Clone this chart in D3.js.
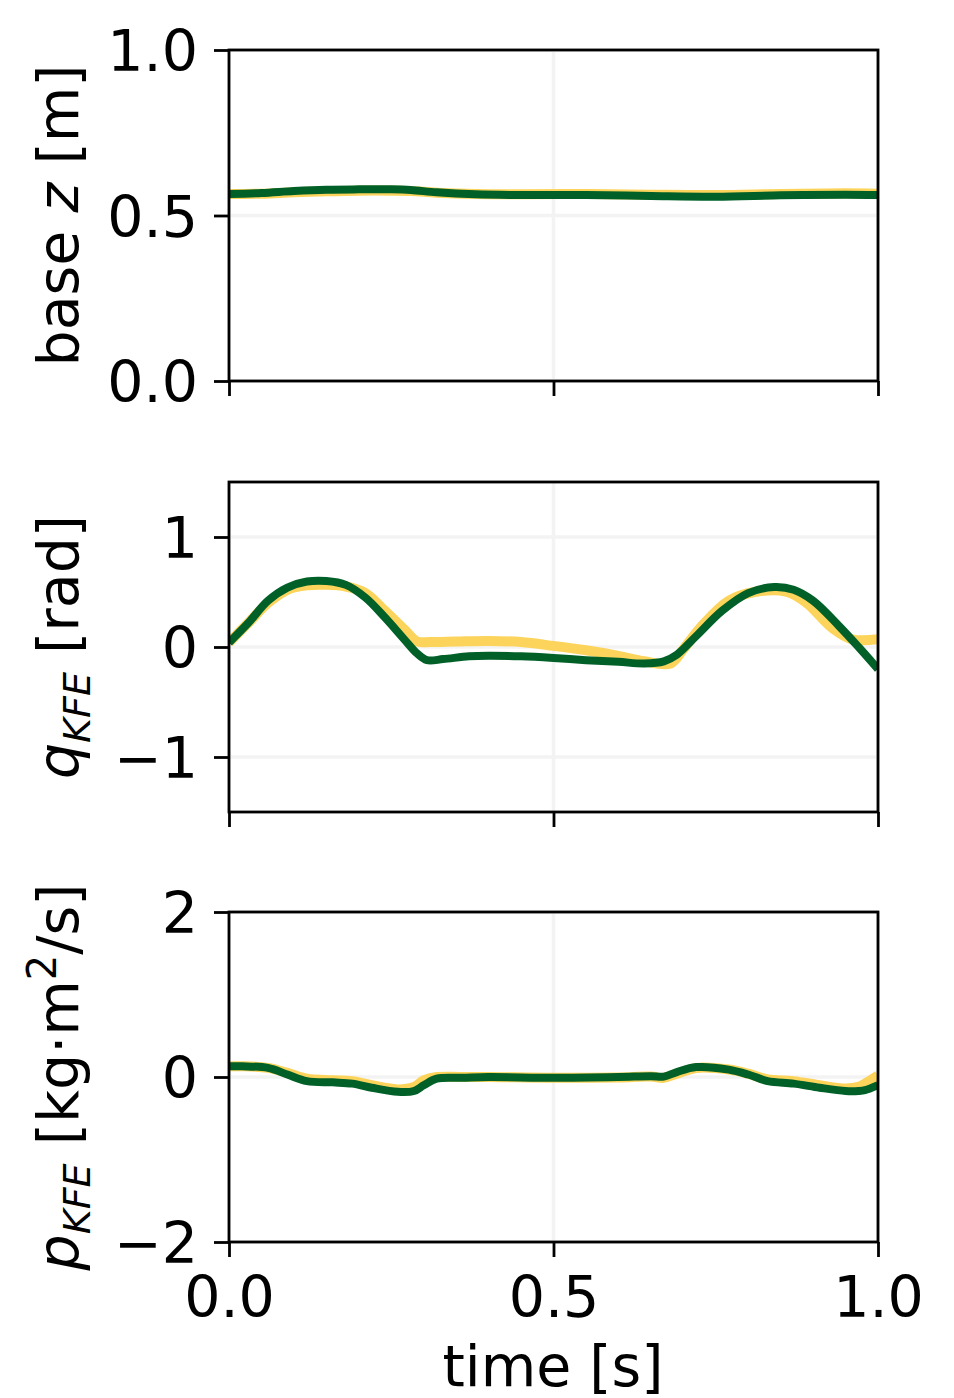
<!DOCTYPE html>
<html lang='en'>
<head>
    <meta charset='utf-8'>
    <title>KFE trajectories</title>
    <script src="https://d3js.org/d3.v7.min.js"></script>
    <style>
        body { margin: 0; background: white; }
        text { font-family: "DejaVu Sans", sans-serif; fill: black; }
    </style>
</head>
<body>
    <div id='chart'></div>
    <script>
        // time samples and series
        const baseT     = [0, 0.05, 0.1, 0.15, 0.2, 0.25, 0.28, 0.32, 0.38, 0.45, 0.55, 0.65, 0.75, 0.85, 0.95, 1.0];
        const baseRef   = [0.565, 0.566, 0.570, 0.573, 0.575, 0.575, 0.574, 0.569, 0.565, 0.564, 0.565, 0.563, 0.562, 0.565, 0.567, 0.566];
        const baseSim   = [0.565, 0.568, 0.574, 0.578, 0.579, 0.579, 0.577, 0.570, 0.564, 0.562, 0.562, 0.559, 0.557, 0.561, 0.563, 0.562];

        const qRefT = [0, 0.03, 0.06, 0.09, 0.12, 0.15, 0.18, 0.21, 0.24, 0.27, 0.29, 0.31, 0.35, 0.40, 0.45, 0.50, 0.55, 0.60, 0.64, 0.68, 0.70, 0.73, 0.77, 0.81, 0.86, 0.89, 0.93, 0.96, 1.0];
        const qRef  = [0.04, 0.22, 0.40, 0.52, 0.56, 0.565, 0.55, 0.49, 0.33, 0.16, 0.05, 0.045, 0.05, 0.055, 0.045, 0.01, -0.03, -0.08, -0.13, -0.15, -0.02, 0.20, 0.42, 0.50, 0.50, 0.40, 0.17, 0.07, 0.07];
        const qSimT = [0, 0.03, 0.06, 0.09, 0.12, 0.15, 0.18, 0.21, 0.24, 0.27, 0.29, 0.305, 0.33, 0.37, 0.40, 0.45, 0.50, 0.55, 0.60, 0.64, 0.67, 0.69, 0.72, 0.76, 0.80, 0.84, 0.87, 0.90, 0.94, 0.97, 1.0];
        const qSim  = [0.04, 0.22, 0.42, 0.54, 0.595, 0.60, 0.565, 0.45, 0.27, 0.07, -0.06, -0.12, -0.11, -0.085, -0.08, -0.085, -0.10, -0.12, -0.135, -0.15, -0.13, -0.07, 0.10, 0.33, 0.49, 0.545, 0.52, 0.42, 0.19, 0.0, -0.2];

        const pT   = [0, 0.02, 0.06, 0.09, 0.12, 0.16, 0.19, 0.22, 0.26, 0.285, 0.30, 0.32, 0.36, 0.40, 0.50, 0.60, 0.65, 0.67, 0.69, 0.72, 0.77, 0.80, 0.83, 0.87, 0.91, 0.95, 0.97, 0.98, 1.0];
        const pRef = [0.13, 0.13, 0.11, 0.05, -0.02, -0.04, -0.05, -0.10, -0.15, -0.12, -0.04, 0.0, 0.0, 0.0, -0.01, -0.005, 0.005, -0.01, 0.04, 0.11, 0.09, 0.04, -0.03, -0.05, -0.10, -0.14, -0.12, -0.08, 0.02];
        const pSim = [0.13, 0.13, 0.11, 0.03, -0.05, -0.065, -0.08, -0.13, -0.18, -0.17, -0.10, -0.02, -0.01, 0.0, -0.01, 0.0, 0.01, 0.005, 0.06, 0.12, 0.09, 0.03, -0.05, -0.08, -0.13, -0.17, -0.17, -0.16, -0.10];

        const xTicks = [0, 0.5, 1.0];
        const baseTicks = [0, 0.5, 1.0];
        const qTicks = [-1, 0, 1];
        const pTicks = [-2, 0, 2];

        const W = 954, H = 1398;
        const fs = 57;
        const refColor = "#fcd45c", simColor = "#006028";
        const gridColor = "#f3f3f3";

        const svg = d3.select("#chart").append("svg")
            .attr("width", W).attr("height", H);

        const x = d3.scaleLinear().domain([0, 1]).range([229, 878]);

        const panels = [
            {top: 50,  bottom: 381,  domain: [0, 1],     ticks: baseTicks, fmt: d3.format(".1f"),
             series: [[baseT, baseRef], [baseT, baseSim]], label: "base"},
            {top: 482, bottom: 812,  domain: [-1.5, 1.5], ticks: qTicks, fmt: d3.format("d"),
             series: [[qRefT, qRef], [qSimT, qSim]], label: "q"},
            {top: 912, bottom: 1242, domain: [-2, 2],    ticks: pTicks, fmt: d3.format("d"),
             series: [[pT, pRef], [pT, pSim]], label: "p"}
        ];

        panels.forEach((p, i) => {
            const y = d3.scaleLinear().domain(p.domain).range([p.bottom, p.top]);
            const g = svg.append("g");

            // grid
            g.selectAll(".gx").data(xTicks).enter().append("line")
                .attr("x1", d => x(d)).attr("x2", d => x(d))
                .attr("y1", p.top).attr("y2", p.bottom)
                .attr("stroke", gridColor).attr("stroke-width", 3.5);
            g.selectAll(".gy").data(p.ticks).enter().append("line")
                .attr("x1", 229).attr("x2", 878)
                .attr("y1", d => y(d)).attr("y2", d => y(d))
                .attr("stroke", gridColor).attr("stroke-width", 3.5);

            // lines
            const clipId = "clip" + i;
            svg.append("clipPath").attr("id", clipId).append("rect")
                .attr("x", 229).attr("y", p.top).attr("width", 649).attr("height", p.bottom - p.top);
            const line = d3.line().curve(d3.curveCatmullRom.alpha(0.5))
                .x(d => x(d[0])).y(d => y(d[1]));
            p.series.forEach((s, k) => {
                const pts = s[0].map((t, j) => [t, s[1][j]]);
                g.append("path").datum(pts)
                    .attr("clip-path", `url(#${clipId})`)
                    .attr("d", line)
                    .attr("fill", "none")
                    .attr("stroke", k == 0 ? refColor : simColor)
                    .attr("stroke-width", k == 0 ? 10 : 8)
                    .attr("stroke-linejoin", "round");
            });

            // axes
            const yAxis = g.append("g").attr("transform", "translate(229,0)")
                .call(d3.axisLeft(y).tickValues(p.ticks).tickFormat(p.fmt).tickSize(15).tickPadding(16));
            const xAxis = g.append("g").attr("transform", `translate(0,${p.bottom})`)
                .call(d3.axisBottom(x).tickValues(xTicks).tickFormat(i == 2 ? d3.format(".1f") : "").tickSize(15).tickPadding(20));
            [yAxis, xAxis].forEach(a => {
                a.select(".domain").remove();
                a.selectAll(".tick line").attr("stroke", "black").attr("stroke-width", 2.8);
                a.selectAll(".tick text").style("font-size", fs + "px").attr("fill", "black")
                    .style("font-family", "DejaVu Sans");
            });
            yAxis.selectAll(".tick text").attr("dy", "0.36em");

            g.append("rect")
                .attr("x", 229).attr("y", p.top).attr("width", 649).attr("height", p.bottom - p.top)
                .attr("fill", "none").attr("stroke", "black").attr("stroke-width", 2.8);

            // y label
            const cy = (p.top + p.bottom) / 2;
            const lab = svg.append("text")
                .attr("transform", `translate(78,${cy}) rotate(-90)`)
                .attr("text-anchor", "middle")
                .style("font-size", fs + "px");
            if (p.label == "base") {
                lab.append("tspan").text("base ");
                lab.append("tspan").style("font-style", "italic").text("z");
                lab.append("tspan").text(" [m]");
            } else {
                lab.append("tspan").style("font-style", "italic").text(p.label);
                lab.append("tspan").style("font-style", "italic").style("font-size", "38px")
                    .attr("dy", 12).text("KFE");
                if (p.label == "q") {
                    lab.append("tspan").attr("dy", -12).text(" [rad]");
                } else {
                    lab.append("tspan").attr("dy", -12).text(" [kg·m");
                    lab.append("tspan").style("font-size", "40px").attr("dy", -22).text("2");
                    lab.append("tspan").attr("dy", 22).text("/s]");
                }
            }
        });

        svg.append("text")
            .attr("x", 553).attr("y", 1386)
            .attr("text-anchor", "middle")
            .style("font-size", fs + "px")
            .text("time [s]");
    </script>
</body>
</html>
